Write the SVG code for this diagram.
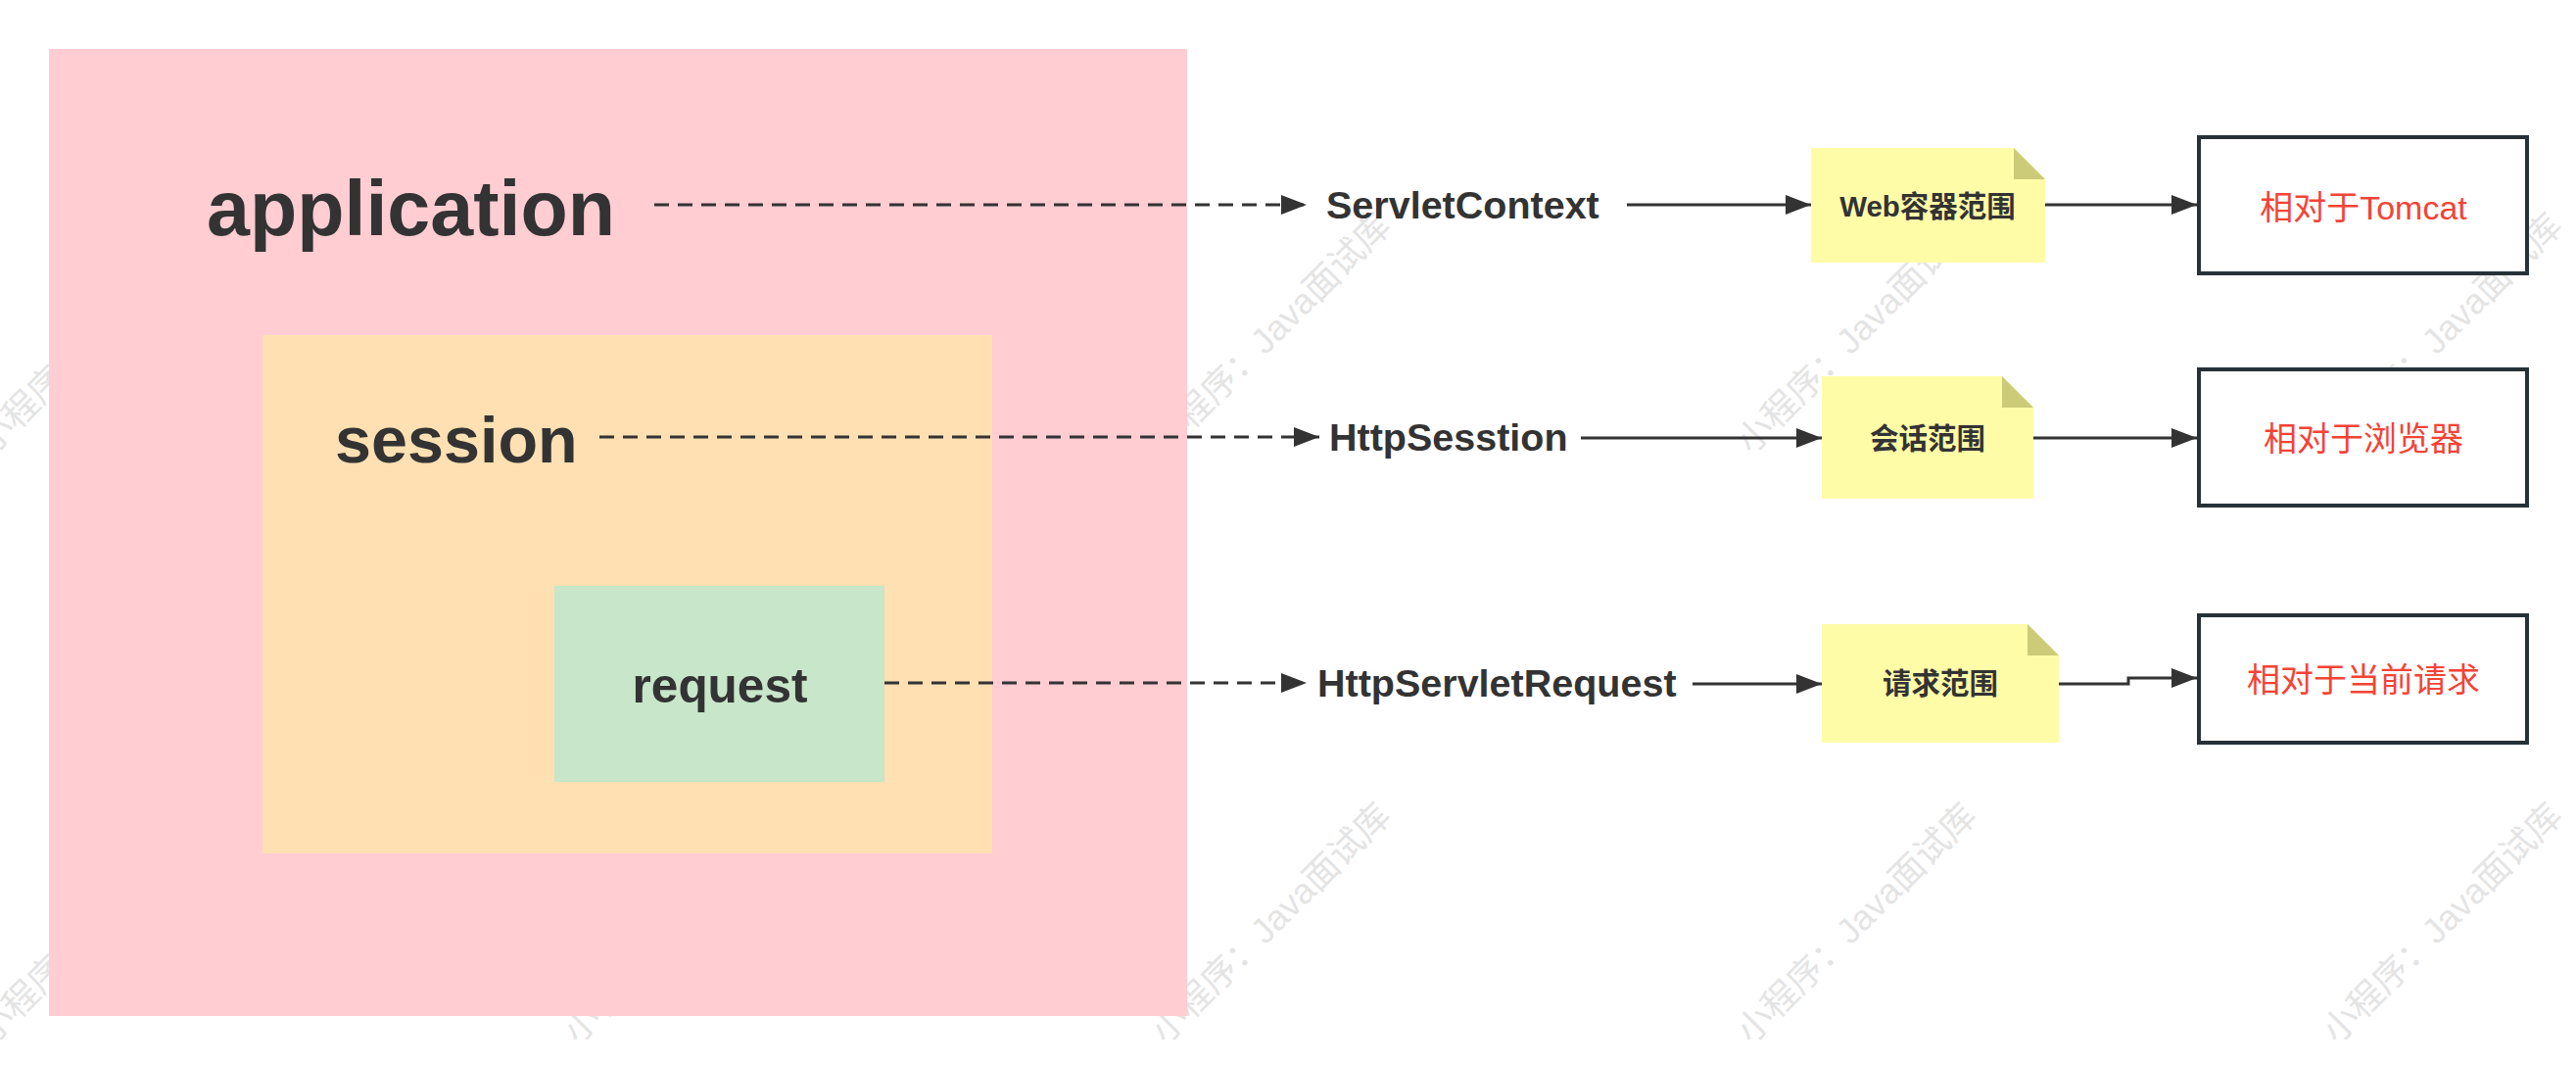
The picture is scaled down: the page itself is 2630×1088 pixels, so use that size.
<svg xmlns="http://www.w3.org/2000/svg" width="2630" height="1088" viewBox="0 0 2630 1088">
  <style>
    .wm { font-family: "Liberation Sans", "Noto Sans CJK SC", sans-serif; font-size: 36px; fill: #e4e4e4; }
    .big { font-family: "Liberation Sans", "Noto Sans CJK SC", sans-serif; font-weight: bold; fill: #333333; }
    .mid { font-family: "Liberation Sans", "Noto Sans CJK SC", sans-serif; font-weight: bold; font-size: 39.5px; fill: #333333; }
    .note-text { font-family: "Liberation Sans", "Noto Sans CJK SC", sans-serif; font-weight: bold; font-size: 29.5px; fill: #333333; text-anchor: middle; }
    .box-text { font-family: "Liberation Sans", "Noto Sans CJK SC", sans-serif; font-size: 34px; fill: #f44336; text-anchor: middle; }
    .note { fill: #fffca8; }
    .fold { fill: #cccb77; }
    .box { fill: #ffffff; stroke: #263238; stroke-width: 4; }
    .conn { fill: none; stroke: #333333; stroke-width: 3; marker-end: url(#arrow); }
    .dash { stroke-dasharray: 15 9; }
  </style>
  <defs>
    <marker id="arrow" markerUnits="userSpaceOnUse" markerWidth="26" markerHeight="20" refX="26" refY="10" orient="auto">
      <path d="M0,0 L26,10 L0,20 Z" fill="#333333"/>
    </marker>
  </defs>

  <rect x="0" y="0" width="2630" height="1088" fill="#ffffff"/>

  <g id="watermarks">
    <text class="wm" transform="translate(-8,465) rotate(-45)">小程序：Java面试库</text>
    <text class="wm" transform="translate(1190,465) rotate(-45)">小程序：Java面试库</text>
    <text class="wm" transform="translate(1788,465) rotate(-45)">小程序：Java面试库</text>
    <text class="wm" transform="translate(2386,465) rotate(-45)">小程序：Java面试库</text>
    <text class="wm" transform="translate(-8,1067) rotate(-45)">小程序：Java面试库</text>
    <text class="wm" transform="translate(590,1067) rotate(-45)">小程序：Java面试库</text>
    <text class="wm" transform="translate(1190,1067) rotate(-45)">小程序：Java面试库</text>
    <text class="wm" transform="translate(1788,1067) rotate(-45)">小程序：Java面试库</text>
    <text class="wm" transform="translate(2386,1067) rotate(-45)">小程序：Java面试库</text>
  </g>

  <g id="application">
    <rect x="50" y="50" width="1162" height="987" fill="#ffcdd2"/>
    <text class="big" x="211" y="240" font-size="79">application</text>
  </g>
  <g id="session">
    <rect x="268" y="342" width="745" height="529" fill="#ffe0b2"/>
    <text class="big" x="342" y="472" font-size="66.5">session</text>
  </g>
  <g id="request">
    <rect x="566" y="598" width="337" height="200" fill="#c8e6c9"/>
    <text class="big" x="735" y="717" font-size="49.5" text-anchor="middle">request</text>
  </g>

  <g id="servletcontext">
    <text class="mid" x="1354" y="223">ServletContext</text>
  </g>
  <g id="httpsession">
    <text class="mid" x="1357" y="460">HttpSesstion</text>
  </g>
  <g id="httpservletrequest">
    <text class="mid" x="1345" y="711">HttpServletRequest</text>
  </g>

  <g id="note-web">
    <path class="note" d="M1849,151 H2056 L2088,183 V268 H1849 Z"/>
    <path class="fold" d="M2056,151 V183 H2088 Z"/>
    <text class="note-text" x="1968" y="221">Web容器范围</text>
  </g>
  <g id="note-session">
    <path class="note" d="M1860,384 H2044 L2076,416 V509 H1860 Z"/>
    <path class="fold" d="M2044,384 V416 H2076 Z"/>
    <text class="note-text" x="1968" y="458">会话范围</text>
  </g>
  <g id="note-request">
    <path class="note" d="M1860,637 H2070 L2102,669 V758 H1860 Z"/>
    <path class="fold" d="M2070,637 V669 H2102 Z"/>
    <text class="note-text" x="1981" y="708">请求范围</text>
  </g>

  <g id="box-tomcat">
    <rect class="box" x="2245" y="140" width="335" height="139"/>
    <text class="box-text" x="2413" y="224">相对于Tomcat</text>
  </g>
  <g id="box-browser">
    <rect class="box" x="2245" y="377" width="335" height="139"/>
    <text class="box-text" x="2413" y="460">相对于浏览器</text>
  </g>
  <g id="box-current">
    <rect class="box" x="2245" y="628" width="335" height="130"/>
    <text class="box-text" x="2413" y="706">相对于当前请求</text>
  </g>

  <g id="connectors">
    <path class="conn dash" d="M668,209 H1334"/>
    <path class="conn" d="M1661,209 H1849"/>
    <path class="conn" d="M2088,209 H2243"/>
    <path class="conn dash" d="M612,446 H1347"/>
    <path class="conn" d="M1614,447 H1860"/>
    <path class="conn" d="M2076,447 H2243"/>
    <path class="conn dash" d="M903,697 H1334"/>
    <path class="conn" d="M1728,698 H1860"/>
    <path class="conn" d="M2102,698 H2173 V692 H2243"/>
  </g>
</svg>
